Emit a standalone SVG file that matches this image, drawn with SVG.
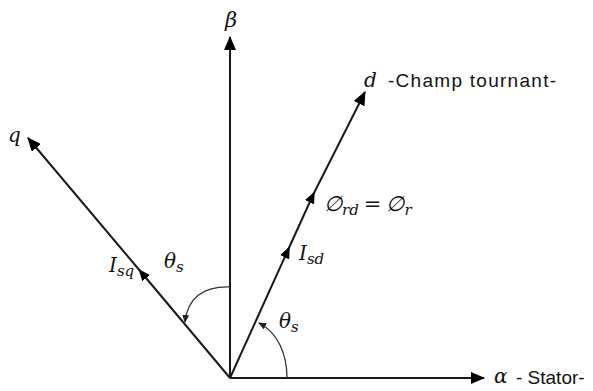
<svg xmlns="http://www.w3.org/2000/svg" width="593" height="391" viewBox="0 0 593 391">
<defs>
<style>
.ax{fill:none;stroke:#1a1a1a;stroke-width:2}
.arc{fill:none;stroke:#333;stroke-width:1.3}
.m{font-family:"DejaVu Serif","Liberation Serif",serif;font-style:italic;fill:#111}
.t{font-family:"Liberation Sans","Open Sans",sans-serif;fill:#111}
</style>
<marker id="big" viewBox="0 0 14 12" refX="13" refY="6" markerWidth="14" markerHeight="12" markerUnits="userSpaceOnUse" orient="auto"><path d="M0,0 L14,6 L0,12 Z" fill="#000"/></marker>
<marker id="sm" viewBox="0 0 12 10" refX="8" refY="5" markerWidth="12" markerHeight="10" markerUnits="userSpaceOnUse" orient="auto"><path d="M0,0 L12,5 L0,10 Z" fill="#000"/></marker>
<marker id="tiny" viewBox="0 0 8 7" refX="7" refY="3.5" markerWidth="8" markerHeight="7" markerUnits="userSpaceOnUse" orient="auto"><path d="M0,0 L8,3.5 L0,7 Z" fill="#222"/></marker>
</defs>
<g id="connectors">
<path class="ax" d="M230,378 L484,378" marker-end="url(#big)"/>
<path class="ax" d="M230,378 L230,37" marker-end="url(#big)"/>
<path class="ax" d="M230,378 L288,250 L313,195 L365,92" marker-mid="url(#sm)" marker-end="url(#big)"/>
<path class="ax" d="M230,378 L141,272 L28,138" marker-mid="url(#sm)" marker-end="url(#big)"/>
<path class="arc" d="M230,287 Q189,286 185,322" marker-end="url(#tiny)"/>
<path class="arc" d="M287,378 C287,354 278,333 259,323" marker-end="url(#tiny)"/>
</g>
<g id="beta"><text class="m" x="225" y="27" font-size="21">β</text></g>
<g id="d"><text class="m" x="364" y="87" font-size="20">d</text><text class="t" x="388" y="87" font-size="19" textLength="168" lengthAdjust="spacing">-Champ tournant-</text></g>
<g id="q"><text class="m" x="8" y="142" font-size="20">q</text></g>
<g id="alpha"><text class="m" x="494" y="383" font-size="20">α</text><text class="t" x="516" y="384" font-size="19">- Stator-</text></g>
<g id="phi"><text class="m" x="324" y="211" font-size="21">∅<tspan font-size="15" dy="4">rd</tspan><tspan dy="-4" dx="5" font-style="normal">=</tspan><tspan dx="5">∅</tspan><tspan font-size="15" dy="4">r</tspan></text></g>
<g id="isd"><text class="m" x="299" y="260" font-size="20">I<tspan font-size="15" dy="4">sd</tspan></text></g>
<g id="isq"><text class="m" x="109" y="272" font-size="20">I<tspan font-size="15" dy="4">sq</tspan></text></g>
<g id="theta1"><text class="m" x="164" y="268" font-size="20">θ<tspan font-size="15" dy="4">s</tspan></text></g>
<g id="theta2"><text class="m" x="279" y="328" font-size="20">θ<tspan font-size="15" dy="4">s</tspan></text></g>
</svg>
